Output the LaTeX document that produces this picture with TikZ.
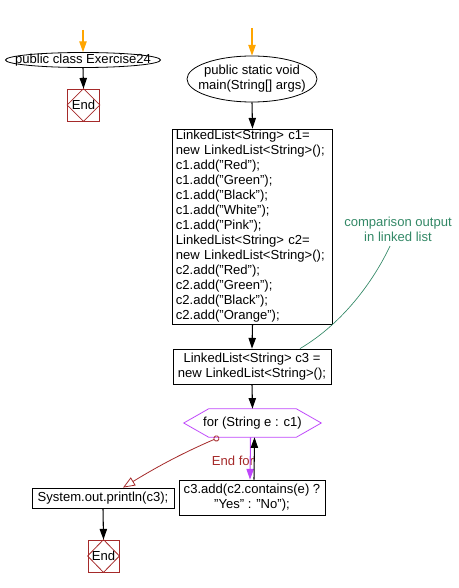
\documentclass[tikz,border=0pt]{standalone}
\usepackage{fontspec}
\setmainfont{Liberation Sans}
\usetikzlibrary{shapes.geometric,arrows.meta}
\definecolor{endred}{RGB}{165,42,42}
\definecolor{loopviolet}{RGB}{190,70,250}
\definecolor{notegreen}{RGB}{51,136,102}
\definecolor{startorange}{RGB}{255,165,0}
\begin{document}
\begin{tikzpicture}[x=0.75pt, y=-0.75pt,
  every node/.style={font=\fontsize{9.8}{11.25}\selectfont},
  oval/.style={ellipse, draw, line width=0.6pt, inner sep=0pt},
  stmt/.style={rectangle, draw, line width=0.6pt, inner sep=0pt, align=center},
  endbox/.style={rectangle, draw=endred, line width=0.6pt, inner sep=0pt, minimum width=24pt, minimum height=24pt},
  flow/.style={line width=0.8pt, -{Triangle[length=8pt, width=5.5pt]}}]
  \useasboundingbox (0, 0) rectangle (458, 588);
  \node[oval, minimum width=116.25pt, minimum height=11.25pt, label=center:{public class Exercise24}] (cls) at (83, 60) {};
  \node[endbox] (end1) at (83.5, 105) {End};
  \draw[endred, line width=0.6pt] (end1.north) -- (end1.east) -- (end1.south) -- (end1.west) -- cycle;
  \node[oval, minimum width=97.5pt, minimum height=34.5pt, label={[align=center]center:public static void\\main(String[] args)}] (main) at (252, 79) {};
  \node[stmt, align=left, text width=115pt, inner xsep=2.5pt, minimum height=146.25pt] (decl) at (252.5, 226.5) {LinkedList<String> c1=\\new LinkedList<String>();\\c1.add("Red");\\c1.add("Green");\\c1.add("Black");\\c1.add("White");\\c1.add("Pink");\\LinkedList<String> c2=\\new LinkedList<String>();\\c2.add("Red");\\c2.add("Green");\\c2.add("Black");\\c2.add("Orange");};
  \node[stmt, minimum width=118.5pt, minimum height=26.25pt] (c3) at (252, 366.5) {LinkedList<String> c3 =\\new LinkedList<String>();};
  \node[inner sep=0pt, minimum width=102.75pt, minimum height=21pt] (loop) at (252.5, 423) {for (String e : c1)};
  \draw[loopviolet, line width=0.6pt] (loop.west) -- ([xshift=18.75pt]loop.north west) -- ([xshift=-18.75pt]loop.north east) -- (loop.east) -- ([xshift=-18.75pt]loop.south east) -- ([xshift=18.75pt]loop.south west) -- cycle;
  \node[stmt, minimum width=109.5pt, minimum height=26.25pt] (body) at (252, 497.5) {c3.add(c2.contains(e) ?\\"Yes" : "No");};
  \node[stmt, minimum width=106.5pt, minimum height=15pt] (sys) at (103, 498) {System.out.println(c3);};
  \node[endbox, minimum width=23.25pt] (end2) at (103.5, 556) {End};
  \draw[endred, line width=0.6pt] (end2.north) -- (end2.east) -- (end2.south) -- (end2.west) -- cycle;
  \node[notegreen, align=center] (note) at (398, 229) {comparison output\\in linked list};
  \node[endred] (endfor) at (233, 461) {End for};
  \coordinate (start1) at (83, 30);
  \coordinate (start2) at (252, 28);
  \draw[flow, startorange] (start1) -- (cls.north);
  \draw[flow] (cls.south) -- (end1.north);
  \draw[flow, startorange] (start2) -- (main.north);
  \draw[flow] (main.south) -- (decl.north);
  \draw[flow] (decl.south) -- (c3.north);
  \draw[flow] (c3.south) -- (loop.north);
  \draw[flow, loopviolet] ([xshift=-1.5pt]loop.south) -- ([xshift=-1.5pt]body.north);
  \draw[flow] ([xshift=1.5pt]body.north) -- ([xshift=1.5pt]loop.south);
  \draw[endred, line width=0.6pt, {Circle[open, length=4.5pt]}-{Triangle[open, length=9pt, width=7pt]}] ([xshift=-25pt]loop.south) .. controls (185, 452) and (160, 465) .. ([xshift=15pt]sys.north);
  \draw[flow] (sys.south) -- (end2.north);
  \draw[notegreen, line width=0.5pt] ([xshift=-6pt]note.south) .. controls (375, 278) and (345, 322) .. ([xshift=36pt]c3.north);
\end{tikzpicture}
\end{document}
